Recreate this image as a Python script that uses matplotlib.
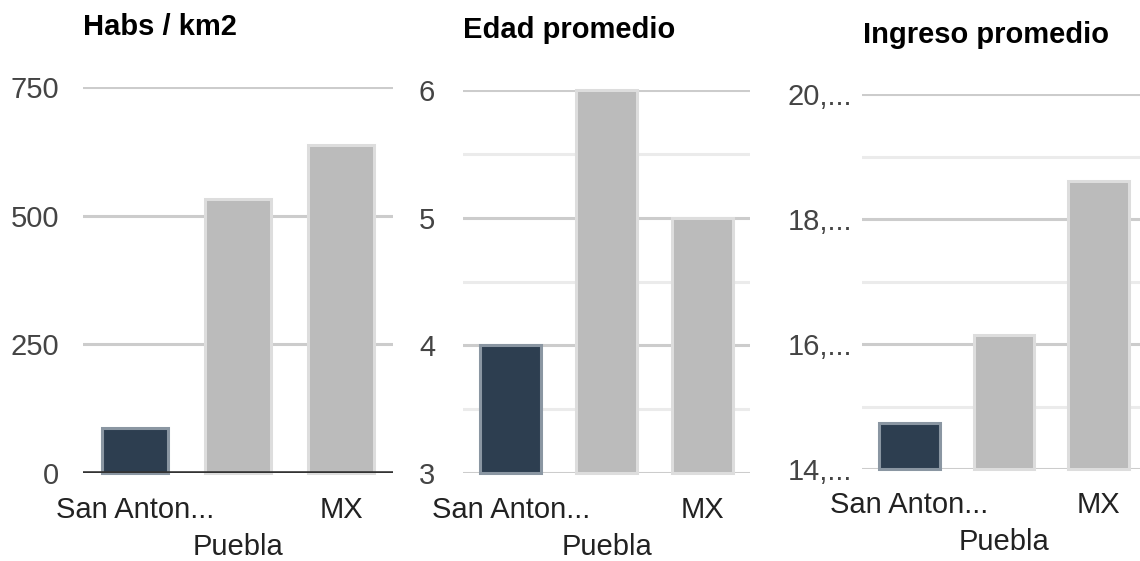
import matplotlib
matplotlib.use("Agg")
import matplotlib.pyplot as plt
from matplotlib.transforms import blended_transform_factory

plt.rcParams['font.family'] = ['Liberation Sans', 'DejaVu Sans']

categories = ["San Anton...", "Puebla", "MX"]

titles = ["Habs / km2", "Edad promedio", "Ingreso promedio"]

dens_values = [87, 532, 637]
dens_ticks = [0, 250, 500, 750]
dens_ticklabels = ["0", "250", "500", "750"]

edad_values = [24, 26, 25]
edad_ticks = [23, 24, 25, 26]
edad_ticklabels = ["3", "4", "5", "6"]
edad_minor = [23.5, 24.5, 25.5]

ingreso_values = [14.74, 16.15, 18.6]
ingreso_ticks = [14, 16, 18, 20]
ingreso_ticklabels = ["14,...", "16,...", "18,...", "20,..."]
ingreso_minor = [15, 17, 19]

W, H = 1140, 561
fig = plt.figure(figsize=(W / 100, H / 100), dpi=100)

DARK = "#2d3e50"
DARK_EDGE = "#8a96a2"
GREY = "#bbbbbb"
GREY_EDGE = "#dddddd"
MAJOR = "#cccccc"
MINOR = "#ebebeb"
FS = 21


def px_axes(left, right, top, bottom):
    return fig.add_axes([left / W, 1 - bottom / H, (right - left) / W, (bottom - top) / H])


panels = [
    dict(box=(83, 393, 87, 473), vals=dens_values, ticks=dens_ticks, tl=dens_ticklabels,
         minor=[], ylim=(0, 750), pad=17, title=titles[0], title_xy=(83, 35),
         row1=518, row2=555, baseline=True),
    dict(box=(463, 750, 90, 473), vals=edad_values, ticks=edad_ticks, tl=edad_ticklabels,
         minor=edad_minor, ylim=(23, 26), pad=20, title=titles[1], title_xy=(463, 38),
         row1=518, row2=555, baseline=False),
    dict(box=(862, 1146, 94, 469), vals=ingreso_values, ticks=ingreso_ticks, tl=ingreso_ticklabels,
         minor=ingreso_minor, ylim=(14, 20), pad=7, title=titles[2], title_xy=(863, 43),
         row1=513, row2=550, baseline=False),
]

for p in panels:
    left, right, top, bottom = p["box"]
    ax = px_axes(left, right, top, bottom)
    ax.set_xlim(-0.5, 2.5)
    ax.set_ylim(*p["ylim"])
    for s in ax.spines.values():
        s.set_visible(False)
    # gridlines
    for t in p["minor"]:
        ax.axhline(t, color=MINOR, lw=2.2, zorder=0)
    for t in p["ticks"]:
        ax.axhline(t, color=MAJOR, lw=2.2, zorder=0)
    colors = [DARK, GREY, GREY]
    edges = [DARK_EDGE, GREY_EDGE, GREY_EDGE]
    ax.bar(range(len(categories)), [v - p["ylim"][0] for v in p["vals"]], bottom=p["ylim"][0],
           width=0.64, color=colors, edgecolor=edges, linewidth=2.2, zorder=2)
    if p["baseline"]:
        ax.axhline(p["ylim"][0], color="#333333", lw=2.6, zorder=3)
    ax.set_yticks(p["ticks"])
    ax.set_yticklabels(p["tl"], fontsize=FS, color="#444444")
    ax.tick_params(axis="y", length=0, pad=p["pad"])
    ax.set_xticks([])
    ax.set_clip_on(False)
    for b in ax.patches:
        b.set_clip_on(False)
    trans = blended_transform_factory(ax.transData, fig.transFigure)
    for i, lab in enumerate(categories):
        yy = p["row2"] if i % 2 == 1 else p["row1"]
        ax.text(i, 1 - yy / H, lab, transform=trans, ha="center", va="baseline",
                fontsize=FS, color="#222222")
    tx, ty = p["title_xy"]
    fig.text(tx / W, 1 - ty / H, p["title"], ha="left", va="baseline",
             fontsize=FS, fontweight="bold", color="#000000")

fig.savefig("out.png", dpi=100, facecolor="white")
